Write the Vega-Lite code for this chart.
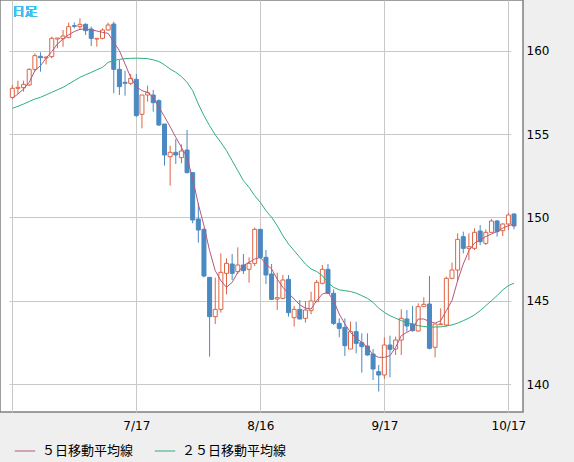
{
  "$schema": "https://vega.github.io/schema/vega-lite/v6.json",
  "width": 523,
  "height": 412,
  "autosize": {"type": "none"},
  "padding": {"left": 0, "top": 0, "right": 51, "bottom": 50},
  "background": "#efefef",
  "config": {
    "view": {"stroke": "#808080", "strokeWidth": 1.5, "fill": "white"},
    "axis": {"labelFont": "DejaVu Sans", "labelFontSize": 12, "labelColor": "#000", "gridColor": "#c8c8c8", "gridWidth": 1, "domain": false, "ticks": false, "title": null}
  },
  "data": {
    "values": [
      {"date": "2024-06-17", "o": 157.2, "h": 157.94, "l": 157.08, "c": 157.74, "ma5": 157.14, "ma25": 156.54},
      {"date": "2024-06-18", "o": 157.74, "h": 158.2, "l": 157.4, "c": 157.8, "ma5": 157.4, "ma25": 156.66},
      {"date": "2024-06-19", "o": 157.78, "h": 158.2, "l": 157.54, "c": 157.98, "ma5": 157.7, "ma25": 156.8},
      {"date": "2024-06-20", "o": 157.94, "h": 158.94, "l": 157.88, "c": 158.88, "ma5": 158.1, "ma25": 156.95},
      {"date": "2024-06-21", "o": 158.88, "h": 159.84, "l": 158.74, "c": 159.7, "ma5": 158.8, "ma25": 157.1},
      {"date": "2024-06-24", "o": 159.66, "h": 159.9, "l": 158.74, "c": 159.58, "ma5": 159.1, "ma25": 157.2},
      {"date": "2024-06-25", "o": 159.56, "h": 159.64, "l": 159.18, "c": 159.62, "ma5": 159.55, "ma25": 157.35},
      {"date": "2024-06-26", "o": 159.64, "h": 160.84, "l": 159.54, "c": 160.74, "ma5": 159.95, "ma25": 157.5},
      {"date": "2024-06-27", "o": 160.7, "h": 160.76, "l": 160.14, "c": 160.76, "ma5": 160.4, "ma25": 157.65},
      {"date": "2024-06-28", "o": 160.72, "h": 161.24, "l": 160.24, "c": 160.88, "ma5": 160.7, "ma25": 157.8},
      {"date": "2024-07-01", "o": 160.8, "h": 161.68, "l": 160.74, "c": 161.44, "ma5": 160.95, "ma25": 158.0},
      {"date": "2024-07-02", "o": 161.5, "h": 161.7, "l": 161.34, "c": 161.46, "ma5": 161.15, "ma25": 158.2},
      {"date": "2024-07-03", "o": 161.44, "h": 161.94, "l": 161.24, "c": 161.58, "ma5": 161.28, "ma25": 158.4},
      {"date": "2024-07-04", "o": 161.58, "h": 161.64, "l": 160.94, "c": 161.2, "ma5": 161.3, "ma25": 158.55},
      {"date": "2024-07-05", "o": 161.3, "h": 161.44, "l": 160.28, "c": 160.74, "ma5": 161.25, "ma25": 158.7},
      {"date": "2024-07-08", "o": 160.7, "h": 160.74, "l": 160.24, "c": 160.74, "ma5": 161.18, "ma25": 158.85},
      {"date": "2024-07-09", "o": 160.74, "h": 161.34, "l": 160.68, "c": 161.24, "ma5": 161.1, "ma25": 159.0},
      {"date": "2024-07-10", "o": 161.24, "h": 161.68, "l": 161.2, "c": 161.54, "ma5": 161.04, "ma25": 159.3},
      {"date": "2024-07-11", "o": 161.6, "h": 161.74, "l": 157.44, "c": 158.88, "ma5": 160.5, "ma25": 159.4},
      {"date": "2024-07-12", "o": 158.88, "h": 159.44, "l": 157.34, "c": 157.84, "ma5": 160.0, "ma25": 159.48},
      {"date": "2024-07-15", "o": 158.1, "h": 158.8, "l": 157.3, "c": 158.04, "ma5": 159.2, "ma25": 159.52},
      {"date": "2024-07-16", "o": 158.04, "h": 158.6, "l": 157.94, "c": 158.34, "ma5": 158.4, "ma25": 159.54},
      {"date": "2024-07-17", "o": 158.28, "h": 158.6, "l": 156.04, "c": 156.1, "ma5": 157.84, "ma25": 159.55},
      {"date": "2024-07-18", "o": 156.18, "h": 157.34, "l": 155.34, "c": 157.34, "ma5": 157.6, "ma25": 159.54},
      {"date": "2024-07-19", "o": 157.34, "h": 157.9, "l": 156.94, "c": 157.48, "ma5": 157.5, "ma25": 159.52},
      {"date": "2024-07-22", "o": 157.34, "h": 157.64, "l": 156.34, "c": 156.88, "ma5": 157.2, "ma25": 159.45},
      {"date": "2024-07-23", "o": 157.0, "h": 157.08, "l": 155.48, "c": 155.54, "ma5": 156.6, "ma25": 159.35},
      {"date": "2024-07-24", "o": 155.6, "h": 155.6, "l": 153.1, "c": 153.74, "ma5": 156.04, "ma25": 159.15},
      {"date": "2024-07-25", "o": 153.64, "h": 154.3, "l": 151.9, "c": 153.9, "ma5": 155.44, "ma25": 158.9},
      {"date": "2024-07-26", "o": 153.9, "h": 154.7, "l": 153.2, "c": 153.74, "ma5": 154.8, "ma25": 158.7},
      {"date": "2024-07-29", "o": 153.58, "h": 154.38, "l": 153.24, "c": 153.98, "ma5": 154.2, "ma25": 158.45},
      {"date": "2024-07-30", "o": 154.04, "h": 155.24, "l": 152.64, "c": 152.68, "ma5": 153.6, "ma25": 158.1},
      {"date": "2024-07-31", "o": 152.68, "h": 152.7, "l": 149.64, "c": 149.84, "ma5": 152.3, "ma25": 157.6},
      {"date": "2024-08-01", "o": 149.9, "h": 150.84, "l": 148.48, "c": 149.24, "ma5": 150.8, "ma25": 156.8},
      {"date": "2024-08-02", "o": 149.28, "h": 149.34, "l": 146.4, "c": 146.48, "ma5": 149.5, "ma25": 156.1},
      {"date": "2024-08-05", "o": 146.4, "h": 146.4, "l": 141.64, "c": 144.04, "ma5": 148.0, "ma25": 155.5},
      {"date": "2024-08-06", "o": 144.04, "h": 146.38, "l": 143.6, "c": 144.48, "ma5": 146.8, "ma25": 154.95},
      {"date": "2024-08-07", "o": 144.48, "h": 147.84, "l": 144.28, "c": 146.7, "ma5": 146.2, "ma25": 154.5},
      {"date": "2024-08-08", "o": 146.64, "h": 147.54, "l": 145.38, "c": 147.24, "ma5": 145.8, "ma25": 154.0},
      {"date": "2024-08-09", "o": 147.2, "h": 147.8, "l": 146.24, "c": 146.64, "ma5": 146.1, "ma25": 153.4},
      {"date": "2024-08-12", "o": 146.74, "h": 148.2, "l": 146.6, "c": 147.14, "ma5": 146.7, "ma25": 152.8},
      {"date": "2024-08-13", "o": 147.14, "h": 147.8, "l": 146.6, "c": 146.8, "ma5": 147.1, "ma25": 152.2},
      {"date": "2024-08-14", "o": 146.88, "h": 147.6, "l": 146.08, "c": 147.24, "ma5": 147.3, "ma25": 151.8},
      {"date": "2024-08-15", "o": 147.24, "h": 149.38, "l": 147.08, "c": 149.28, "ma5": 147.5, "ma25": 151.3},
      {"date": "2024-08-16", "o": 149.28, "h": 149.3, "l": 147.5, "c": 147.6, "ma5": 147.6, "ma25": 150.9},
      {"date": "2024-08-19", "o": 147.6, "h": 148.04, "l": 146.0, "c": 146.54, "ma5": 147.2, "ma25": 150.4},
      {"date": "2024-08-20", "o": 146.6, "h": 147.2, "l": 145.04, "c": 145.08, "ma5": 146.9, "ma25": 150.0},
      {"date": "2024-08-21", "o": 145.1, "h": 146.68, "l": 144.44, "c": 145.18, "ma5": 146.3, "ma25": 149.5},
      {"date": "2024-08-22", "o": 145.14, "h": 146.54, "l": 145.08, "c": 146.24, "ma5": 145.8, "ma25": 148.9},
      {"date": "2024-08-23", "o": 146.28, "h": 146.54, "l": 144.04, "c": 144.28, "ma5": 145.44, "ma25": 148.4},
      {"date": "2024-08-26", "o": 143.98, "h": 144.68, "l": 143.44, "c": 144.48, "ma5": 145.1, "ma25": 148.0},
      {"date": "2024-08-27", "o": 144.48, "h": 145.04, "l": 143.88, "c": 143.9, "ma5": 144.75, "ma25": 147.6},
      {"date": "2024-08-28", "o": 143.94, "h": 144.98, "l": 143.68, "c": 144.44, "ma5": 144.55, "ma25": 147.2},
      {"date": "2024-08-29", "o": 144.4, "h": 145.54, "l": 144.18, "c": 144.98, "ma5": 144.5, "ma25": 146.9},
      {"date": "2024-08-30", "o": 144.94, "h": 146.24, "l": 144.94, "c": 146.1, "ma5": 145.0, "ma25": 146.75},
      {"date": "2024-09-02", "o": 146.04, "h": 147.14, "l": 145.98, "c": 146.88, "ma5": 145.4, "ma25": 146.5},
      {"date": "2024-09-03", "o": 146.88, "h": 147.2, "l": 145.44, "c": 145.44, "ma5": 145.5, "ma25": 146.1},
      {"date": "2024-09-04", "o": 145.44, "h": 145.68, "l": 143.54, "c": 143.64, "ma5": 145.0, "ma25": 145.8},
      {"date": "2024-09-05", "o": 143.64, "h": 143.94, "l": 142.8, "c": 143.34, "ma5": 144.2, "ma25": 145.65},
      {"date": "2024-09-06", "o": 143.4, "h": 143.94, "l": 141.68, "c": 142.3, "ma5": 143.6, "ma25": 145.6},
      {"date": "2024-09-09", "o": 142.1, "h": 143.74, "l": 142.1, "c": 143.14, "ma5": 143.1, "ma25": 145.55},
      {"date": "2024-09-10", "o": 143.14, "h": 143.74, "l": 141.84, "c": 142.44, "ma5": 142.75, "ma25": 145.45},
      {"date": "2024-09-11", "o": 142.48, "h": 143.04, "l": 140.68, "c": 142.24, "ma5": 142.5, "ma25": 145.3},
      {"date": "2024-09-12", "o": 142.28, "h": 143.04, "l": 141.7, "c": 141.74, "ma5": 142.2, "ma25": 145.14},
      {"date": "2024-09-13", "o": 141.8, "h": 142.1, "l": 140.24, "c": 140.9, "ma5": 141.75, "ma25": 144.9},
      {"date": "2024-09-16", "o": 140.74, "h": 141.14, "l": 139.54, "c": 140.54, "ma5": 141.6, "ma25": 144.55},
      {"date": "2024-09-17", "o": 140.54, "h": 142.8, "l": 140.32, "c": 142.34, "ma5": 141.6, "ma25": 144.3},
      {"date": "2024-09-18", "o": 142.34, "h": 142.9, "l": 140.4, "c": 142.08, "ma5": 141.7, "ma25": 144.1},
      {"date": "2024-09-19", "o": 142.1, "h": 142.84, "l": 141.74, "c": 142.64, "ma5": 142.2, "ma25": 143.95},
      {"date": "2024-09-20", "o": 142.64, "h": 144.48, "l": 141.74, "c": 143.94, "ma5": 142.9, "ma25": 143.8},
      {"date": "2024-09-23", "o": 143.9, "h": 144.44, "l": 143.14, "c": 143.48, "ma5": 143.1, "ma25": 143.7},
      {"date": "2024-09-24", "o": 143.6, "h": 144.68, "l": 143.14, "c": 143.2, "ma5": 143.3, "ma25": 143.6},
      {"date": "2024-09-25", "o": 143.18, "h": 144.84, "l": 143.14, "c": 144.64, "ma5": 143.9, "ma25": 143.5},
      {"date": "2024-09-26", "o": 144.64, "h": 145.2, "l": 144.64, "c": 144.78, "ma5": 143.9, "ma25": 143.45},
      {"date": "2024-09-27", "o": 144.8, "h": 146.48, "l": 142.08, "c": 142.14, "ma5": 143.75, "ma25": 143.42},
      {"date": "2024-09-30", "o": 142.2, "h": 143.6, "l": 141.6, "c": 143.6, "ma5": 143.65, "ma25": 143.42},
      {"date": "2024-10-01", "o": 143.56, "h": 144.54, "l": 143.54, "c": 143.6, "ma5": 143.8, "ma25": 143.43},
      {"date": "2024-10-02", "o": 143.54, "h": 146.44, "l": 143.44, "c": 146.34, "ma5": 144.4, "ma25": 143.48},
      {"date": "2024-10-03", "o": 146.34, "h": 147.28, "l": 146.28, "c": 146.84, "ma5": 145.0, "ma25": 143.55},
      {"date": "2024-10-04", "o": 146.84, "h": 149.04, "l": 146.14, "c": 148.68, "ma5": 146.2, "ma25": 143.65},
      {"date": "2024-10-07", "o": 148.84, "h": 149.14, "l": 147.84, "c": 148.14, "ma5": 147.2, "ma25": 143.8},
      {"date": "2024-10-08", "o": 148.14, "h": 149.04, "l": 147.44, "c": 148.24, "ma5": 148.0, "ma25": 143.95},
      {"date": "2024-10-09", "o": 148.14, "h": 149.34, "l": 148.04, "c": 149.1, "ma5": 148.45, "ma25": 144.15},
      {"date": "2024-10-10", "o": 149.18, "h": 149.54, "l": 148.34, "c": 148.54, "ma5": 148.65, "ma25": 144.4},
      {"date": "2024-10-11", "o": 148.44, "h": 149.28, "l": 148.34, "c": 149.1, "ma5": 148.85, "ma25": 144.7},
      {"date": "2024-10-14", "o": 149.1, "h": 149.9, "l": 149.1, "c": 149.78, "ma5": 149.0, "ma25": 145.0},
      {"date": "2024-10-15", "o": 149.78, "h": 149.84, "l": 148.84, "c": 149.14, "ma5": 149.15, "ma25": 145.3},
      {"date": "2024-10-16", "o": 149.2, "h": 149.64, "l": 148.88, "c": 149.6, "ma5": 149.35, "ma25": 145.65},
      {"date": "2024-10-17", "o": 149.6, "h": 150.28, "l": 149.24, "c": 150.14, "ma5": 149.5, "ma25": 145.9},
      {"date": "2024-10-18", "o": 150.2, "h": 150.24, "l": 149.28, "c": 149.48, "ma5": 149.6, "ma25": 146.05}
    ]
  },
  "encoding": {
    "x": {
      "field": "date",
      "type": "ordinal",
      "scale": {"type": "point", "padding": 0, "range": [12.3, 514]},
      "axis": {
        "orient": "bottom",
        "values": ["2024-06-17", "2024-07-17", "2024-08-16", "2024-09-17", "2024-10-17"],
        "labelExpr": "datum.value == '2024-06-17' ? '' : toNumber(slice(datum.value, 5, 7)) + '/' + toNumber(slice(datum.value, 8, 10))",
        "labelAngle": 0,
        "labelPadding": 8,
        "labelBaseline": "top",
        "grid": true
      }
    }
  },
  "layer": [
    {
      "mark": {"type": "rule", "strokeWidth": 1},
      "encoding": {
        "y": {
          "field": "l",
          "type": "quantitative",
          "scale": {"domain": [138.32, 163.04], "nice": false, "zero": false},
          "axis": {"orient": "right", "values": [140, 145, 150, 155, 160], "labelPadding": 3, "grid": true}
        },
        "y2": {"field": "h"},
        "color": {"condition": {"test": "datum.c >= datum.o", "value": "#dd6444"}, "value": "#4a89c1"}
      }
    },
    {
      "mark": {"type": "bar", "size": 4, "strokeWidth": 1},
      "encoding": {
        "y": {"field": "o", "type": "quantitative"},
        "y2": {"field": "c"},
        "fill": {"condition": {"test": "datum.c >= datum.o", "value": "white"}, "value": "#4a89c1"},
        "stroke": {"condition": {"test": "datum.c >= datum.o", "value": "#dd6444"}, "value": "#4a89c1"}
      }
    },
    {
      "transform": [{"fold": ["ma25", "ma5"], "as": ["series", "value"]}],
      "mark": {"type": "line", "strokeWidth": 1},
      "encoding": {
        "y": {"field": "value", "type": "quantitative"},
        "color": {
          "field": "series",
          "type": "nominal",
          "scale": {"domain": ["ma5", "ma25"], "range": ["#b4587f", "#2eb07a"]},
          "legend": {
            "orient": "none",
            "legendX": 14,
            "legendY": 440,
            "direction": "horizontal",
            "title": null,
            "padding": 0,
            "symbolType": "stroke",
            "symbolSize": 420,
            "symbolStrokeWidth": 1,
            "labelOffset": 6,
            "columnPadding": 18,
            "labelFont": "Noto Sans CJK JP",
            "labelFontSize": 13,
            "labelColor": "#000",
            "labelExpr": "datum.value == 'ma5' ? '５日移動平均線' : '２５日移動平均線'"
          }
        }
      }
    },
    {
      "mark": {"type": "text", "text": "日足", "align": "left", "baseline": "middle", "dx": 0, "font": "Noto Sans CJK JP", "fontSize": 12.5, "fontWeight": "normal", "color": "#45bdf0"},
      "encoding": {
        "x": {"datum": "2024-06-17"},
        "y": {"datum": 162.32}
      }
    }
  ]
}
